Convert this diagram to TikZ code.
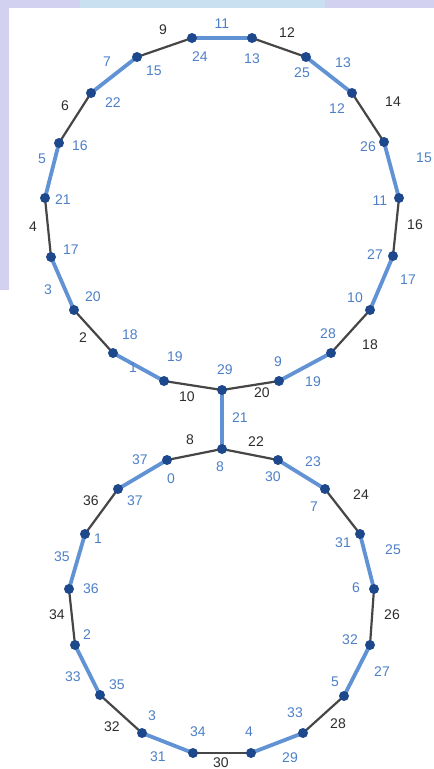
\documentclass[tikz,border=0pt]{standalone}
\usepackage{fontspec}
\setmainfont{Liberation Sans}
\usetikzlibrary{backgrounds}
\definecolor{edgeblue}{RGB}{96,146,212}
\definecolor{edgedark}{RGB}{70,70,70}
\definecolor{dotblue}{RGB}{30,72,140}
\definecolor{txtblue}{RGB}{78,128,200}
\definecolor{txtdark}{RGB}{45,45,45}
\definecolor{bgpurple}{RGB}{210,210,240}
\definecolor{bglblue}{RGB}{200,224,240}
\tikzset{
  vtx/.style={circle,fill=dotblue,inner sep=0pt,minimum size=10pt},
  bedge/.style={draw=edgeblue,line width=3.8pt},
  kedge/.style={draw=edgedark,line width=2.2pt},
  vlab/.style={text=txtblue,font=\fontsize{14}{14}\selectfont,inner sep=0pt},
  belab/.style={text=txtblue,font=\fontsize{14}{14}\selectfont,inner sep=0pt},
  kelab/.style={text=txtdark,font=\fontsize{14}{14}\selectfont,inner sep=0pt}
}
\begin{document}
\begin{tikzpicture}[x=1pt,y=-1pt]
\useasboundingbox (0,0) rectangle (434,769);
% vertices
\foreach \n/\x/\y in {t29/222/390, t9/279/381, t28/331/353, t10/370/310, t27/393/256, t11/399/198, t26/384/142, t12/352/93, t25/306/57, t13/252/38, t24/192/38, t15/137/57, t22/91/93, t16/59/143, t21/45/198, t17/51/257, t20/74/310, t18/113/353, t19/164/381,
 b8/222/449, b30/278/460, b7/325/489, b31/360/534, b6/374/589, b32/370/645, b5/344/696, b33/303/733, b4/251/753, b34/193/753, b3/142/733, b35/100/695, b2/75/645, b36/69/589, b1/85/534, b37/118/489, b0/167/460}
  \node[vtx] (\n) at (\x,\y) {};
% vertex labels
\foreach \n/\t/\x/\y in {t29/29/225/370, t9/9/278/362, t28/28/328/334, t10/10/355/298, t27/27/375/255, t11/11/380/201, t26/26/368/147, t12/12/337/109, t25/25/302/73, t13/13/252/59, t24/24/200/57, t15/15/154/71, t22/22/113/103, t16/16/80/146, t21/21/63/200, t17/17/71/250, t20/20/93/297, t18/18/130/335, t19/19/175/357,
 b8/8/220/467, b30/30/273/477, b7/7/314/507, b31/31/343/543, b6/6/356/588, b32/32/350/640, b5/5/335/682, b33/33/295/713, b4/4/249/732, b34/34/198/732, b3/3/152/716, b35/35/117/685, b2/2/87/635, b36/36/91/589, b1/1/98/539, b37/37/135/501, b0/0/171/479}
  \node[vlab] (l\n) at (\x,\y) {\t};
\begin{scope}[on background layer]
\fill[white] (0,0) rectangle (434,769);
\fill[bgpurple] (0,0) rectangle (434,7.5);
\fill[bglblue] (80,0) rectangle (325,7.5);
\fill[bgpurple] (0,0) rectangle (8.5,290);
% blue edges
\foreach \a/\b/\t/\x/\y in {t9/t28/19/313/382, t10/t27/17/408/280, t11/t26/15/424/158, t12/t25/13/343/63, t13/t24/11/222/24, t15/t22/7/107/62, t16/t21/5/42/159, t17/t20/3/48/290, t18/t19/1/133/368, t29/b8/21/240/418,
 b30/b7/23/313/462, b31/b6/25/393/550, b32/b5/27/382/672, b33/b4/29/290/758, b34/b3/31/158/757, b35/b2/33/73/677, b36/b1/35/62/557, b37/b0/37/140/460}
  {\draw[bedge] (\a.center) -- (\b.center);
   \node[belab] (e\t) at (\x,\y) {\t};}
% dark edges
\foreach \a/\b/\t/\x/\y in {t19/t29/10/187/397, t29/t9/20/262/393, t28/t10/18/370/345, t27/t11/16/415/225, t26/t12/14/393/102, t25/t13/12/287/33, t24/t15/9/163/30, t22/t16/6/65/106, t21/t17/4/33/227, t20/t18/2/83/338,
 b0/b8/8/190/440, b8/b30/22/256/442, b7/b31/24/361/495, b6/b32/26/392/615, b5/b33/28/338/724, b4/b34/30/221/763, b3/b35/32/112/727, b2/b36/34/57/615, b1/b37/36/91/501}
  {\draw[kedge] (\a.center) -- (\b.center);
   \node[kelab] (e\t) at (\x,\y) {\t};}
\end{scope}
\end{tikzpicture}
\end{document}
